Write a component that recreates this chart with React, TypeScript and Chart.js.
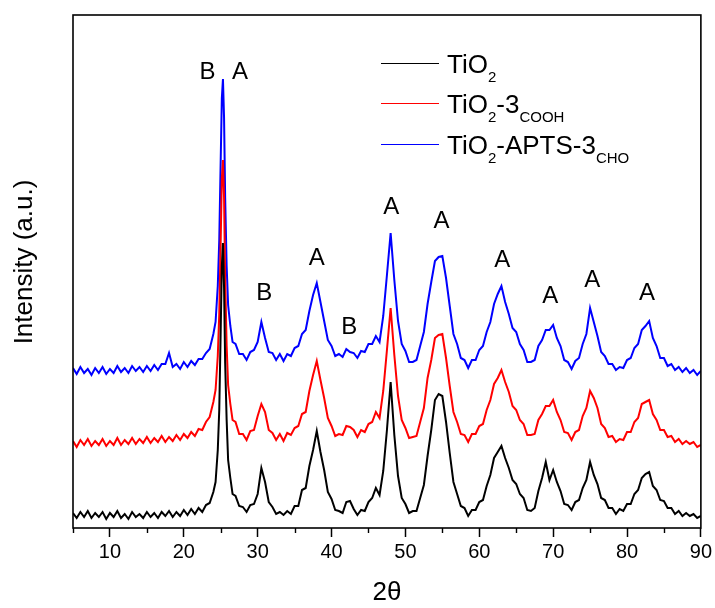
import { useEffect, useRef } from 'react';
import { Chart, registerables } from 'chart.js';

Chart.register(...registerables);

const FONT = '"Liberation Sans", Arial, Helvetica, sans-serif';

// 2θ positions (degrees)
const angles = [
  5, 5.5, 6, 6.5, 7, 7.5, 8, 8.5, 9, 9.5,
  10, 10.5, 11, 11.5, 12, 12.5, 13, 13.5, 14, 14.5,
  15, 15.5, 16, 16.5, 17, 17.5, 18, 18.5, 19, 19.5,
  20, 20.5, 21, 21.5, 22, 22.5, 23, 23.5, 24,
  24.3, 24.6, 24.8, 25.0, 25.15, 25.3, 25.45, 25.6, 25.8, 26.0, 26.3, 26.6,
  27, 27.5, 28, 28.5, 29, 29.5, 30, 30.5, 31, 31.5,
  32, 32.5, 33, 33.5, 34, 34.5, 35, 35.5, 36, 36.5,
  37, 37.5, 38, 38.5, 39, 39.5, 40, 40.5, 41, 41.5,
  42, 42.5, 43, 43.5, 44, 44.5, 45, 45.5, 46, 46.5,
  47, 47.5, 48, 48.5, 49, 49.5, 50, 50.5, 51, 51.5,
  52, 52.5, 53, 53.5, 54, 54.5, 55, 55.5, 56, 56.5,
  57, 57.5, 58, 58.5, 59, 59.5, 60, 60.5, 61, 61.5,
  62, 62.5, 63, 63.5, 64, 64.5, 65, 65.5, 66, 66.5,
  67, 67.5, 68, 68.5, 69, 69.5, 70, 70.5, 71, 71.5,
  72, 72.5, 73, 73.5, 74, 74.5, 75, 75.5, 76, 76.5,
  77, 77.5, 78, 78.5, 79, 79.5, 80, 80.5, 81, 81.5,
  82, 82.5, 83, 83.5, 84, 84.5, 85, 85.5, 86, 86.5,
  87, 87.5, 88, 88.5, 89, 89.5, 90,
];

// Intensities (a.u., stacked as plotted)
const tio2 = [
  15, 10, 16, 11, 17, 10, 15, 11, 16, 9,
  15, 11, 17, 10, 14, 9, 16, 11, 14, 10,
  16, 11, 15, 10, 16, 12, 17, 11, 16, 12,
  18, 13, 19, 14, 20, 16, 23, 25, 36,
  46, 78, 118, 200, 262, 285, 240, 165, 108, 68, 50, 34,
  32, 22, 21, 16, 23, 24, 34, 60, 46, 26,
  21, 14, 16, 13, 17, 14, 22, 22, 38, 40,
  62, 78, 97, 76, 58, 36, 29, 18, 17, 15,
  26, 27, 19, 13, 18, 17, 26, 30, 40, 33,
  57, 98, 146, 93, 52, 30, 24, 15, 17, 17,
  30, 43, 72, 98, 128, 134, 132, 106, 75, 46,
  34, 22, 20, 12, 18, 18, 26, 28, 42, 53,
  70, 76, 82, 70, 60, 48, 44, 34, 30, 18,
  17, 20, 37, 50, 66, 48, 58, 46, 37, 24,
  23, 18, 26, 28, 40, 48, 66, 53, 44, 30,
  28, 20, 20, 14, 19, 17, 24, 24, 34, 38,
  50, 54, 56, 42, 38, 28, 27, 20, 20, 14,
  17, 12, 15, 12, 14, 10, 12,
];

const tio2Cooh = [
  87, 81, 88, 83, 89, 82, 87, 83, 89, 82,
  87, 83, 90, 83, 88, 84, 90, 84, 89, 85,
  91, 85, 90, 86, 92, 86, 91, 87, 93, 88,
  94, 90, 96, 92, 99, 98, 106, 111, 126,
  138, 172, 214, 290, 350, 368, 330, 250, 182, 143, 124, 108,
  106, 94, 94, 88, 97, 98, 112, 124, 116, 98,
  95, 88, 94, 87, 95, 93, 100, 102, 114, 116,
  137, 153, 167, 148, 130, 110, 102, 92, 94, 93,
  102, 101, 98, 91, 98, 96, 104, 106, 116, 110,
  137, 178, 220, 173, 132, 108, 100, 90, 91, 92,
  106, 120, 150, 168, 190, 193, 194, 170, 142, 116,
  106, 94, 93, 86, 94, 94, 102, 104, 118, 128,
  144, 150, 158, 146, 136, 122, 118, 108, 104, 93,
  93, 94, 108, 114, 122, 122, 128, 116, 108, 96,
  95, 88, 96, 98, 112, 120, 137, 130, 120, 104,
  100, 91, 92, 86, 89, 88, 96, 96, 106, 110,
  124, 126, 128, 114, 108, 98, 98, 91, 92, 86,
  89, 84, 87, 84, 86, 81, 83,
];

const tio2AptsCho = [
  160, 154, 161, 155, 159, 153, 160, 155, 161, 154,
  159, 155, 162, 156, 160, 155, 162, 157, 161, 156,
  162, 157, 163, 158, 164, 164, 175, 161, 164, 159,
  166, 161, 167, 163, 169, 169, 175, 179, 194,
  206, 242, 288, 370, 430, 449, 410, 330, 262, 223, 202, 186,
  184, 174, 174, 168, 176, 178, 186, 206, 190, 176,
  175, 168, 174, 167, 174, 172, 180, 182, 194, 198,
  217, 233, 245, 226, 207, 188, 182, 172, 174, 171,
  179, 176, 175, 170, 177, 176, 184, 184, 192, 186,
  212, 253, 295, 248, 207, 184, 177, 166, 166, 168,
  182, 196, 224, 246, 267, 271, 272, 250, 222, 194,
  184, 170, 168, 160, 168, 168, 178, 182, 196, 206,
  224, 234, 242, 226, 214, 200, 196, 184, 178, 166,
  166, 168, 182, 188, 198, 198, 203, 190, 182, 168,
  166, 159, 167, 170, 184, 194, 220, 206, 192, 176,
  172, 164, 164, 158, 161, 160, 168, 170, 180, 184,
  198, 202, 207, 190, 182, 170, 170, 162, 164, 158,
  161, 156, 160, 155, 158, 153, 157,
];

const majorTicks = [10, 20, 30, 40, 50, 60, 70, 80, 90];
const minorTicks = [5, 15, 25, 35, 45, 55, 65, 75, 85];

// phase labels: A = anatase, B = brookite
const peakLabels = ['B', 'A', 'B', 'A', 'B', 'A', 'A', 'A', 'A', 'A', 'A'];
const peakX = [23.2, 27.6, 30.9, 38.0, 42.4, 48.1, 54.9, 63.1, 69.6, 75.3, 82.7];
const peakY = [456, 456, 235, 270, 201, 321, 307, 268, 232, 248, 235];

// legend names as [text, isSubscript] segments
const seriesNames = [
  [['TiO', false], ['2', true]],
  [['TiO', false], ['2', true], ['-3', false], ['COOH', true]],
  [['TiO', false], ['2', true], ['-APTS-3', false], ['CHO', true]],
] as [string, boolean][][];
const seriesColors = ['#000000', '#ff0000', '#0000ff'];

const xTitle = '2θ';
const yTitle = 'Intensity (a.u.)';

const overlay = {
  id: 'overlay',
  afterDraw(chart: any) {
    const { ctx, chartArea: a, scales } = chart;
    const xs = scales.x;
    const ys = scales.y;
    ctx.save();
    // frame
    ctx.strokeStyle = '#000';
    ctx.lineWidth = 1.6;
    ctx.strokeRect(a.left, a.top, a.right - a.left, a.bottom - a.top);
    // minor ticks
    ctx.lineWidth = 1.4;
    ctx.beginPath();
    for (const v of minorTicks) {
      const px = Math.round(xs.getPixelForValue(v)) + 0.5;
      ctx.moveTo(px, a.bottom);
      ctx.lineTo(px, a.bottom + 5);
    }
    ctx.stroke();
    // peak labels
    ctx.fillStyle = '#000';
    ctx.font = `24px ${FONT}`;
    ctx.textAlign = 'center';
    ctx.textBaseline = 'middle';
    peakLabels.forEach((t, i) => {
      ctx.fillText(t, xs.getPixelForValue(peakX[i]), ys.getPixelForValue(peakY[i]));
    });
    // legend
    const lx0 = 381, lx1 = 439, tx = 447;
    const lineYs = [63, 103, 144];
    seriesNames.forEach((segs, i) => {
      const ly = lineYs[i];
      ctx.strokeStyle = seriesColors[i];
      ctx.lineWidth = 1.2;
      ctx.beginPath();
      ctx.moveTo(lx0, ly + 0.5);
      ctx.lineTo(lx1, ly + 0.5);
      ctx.stroke();
      let x = tx;
      const base = ly + 10;
      ctx.textAlign = 'left';
      ctx.textBaseline = 'alphabetic';
      ctx.fillStyle = '#000';
      for (const [t, sub] of segs) {
        ctx.font = sub ? `15px ${FONT}` : `26px ${FONT}`;
        ctx.fillText(t, x, sub ? base + 9 : base);
        x += ctx.measureText(t).width;
      }
    });
    // y title
    ctx.save();
    ctx.translate(25, 262);
    ctx.rotate(-Math.PI / 2);
    ctx.font = `26px ${FONT}`;
    ctx.textAlign = 'center';
    ctx.textBaseline = 'middle';
    ctx.fillStyle = '#000';
    ctx.fillText(yTitle, 0, 0);
    ctx.restore();
    ctx.restore();
  },
};

export default function App() {
  const ref = useRef<HTMLCanvasElement>(null);
  useEffect(() => {
    const mk = (vals: number[]) => angles.map((x, i) => ({ x, y: vals[i] }));
    const chart = new Chart(ref.current as HTMLCanvasElement, {
      type: 'line',
      data: {
        datasets: [
          { label: 'TiO2', data: mk(tio2), borderColor: seriesColors[0], borderWidth: 2, pointRadius: 0, tension: 0, fill: false },
          { label: 'TiO2-3COOH', data: mk(tio2Cooh), borderColor: seriesColors[1], borderWidth: 2, pointRadius: 0, tension: 0, fill: false },
          { label: 'TiO2-APTS-3CHO', data: mk(tio2AptsCho), borderColor: seriesColors[2], borderWidth: 2, pointRadius: 0, tension: 0, fill: false },
        ],
      },
      options: {
        responsive: false,
        animation: false,
        devicePixelRatio: 1,
        layout: { padding: { left: 73, top: 15, right: 13, bottom: 0 } },
        plugins: { legend: { display: false }, tooltip: { enabled: false } },
        scales: {
          x: {
            type: 'linear',
            min: 5,
            max: 90,
            afterFit: (s: any) => { s.height = 80; },
            afterBuildTicks: (s: any) => { s.ticks = majorTicks.map((v) => ({ value: v })); },
            ticks: { font: { family: FONT, size: 20 }, color: '#000', padding: 3, maxRotation: 0, autoSkip: false },
            grid: { drawOnChartArea: false, drawTicks: true, tickLength: 9, tickWidth: 1.5, tickColor: '#000' },
            border: { display: false },
            title: { display: true, text: xTitle, font: { family: FONT, size: 26 }, color: '#000', padding: 0 },
          },
          y: { display: false, min: 0, max: 513 },
        },
      },
      plugins: [overlay],
    } as any);
    return () => chart.destroy();
  }, []);
  return (
    <div style={{ position: 'fixed', left: 0, top: 0, width: 715, height: 608, background: '#fff' }}>
      <canvas ref={ref} width={715} height={608} style={{ display: 'block' }} />
    </div>
  );
}
